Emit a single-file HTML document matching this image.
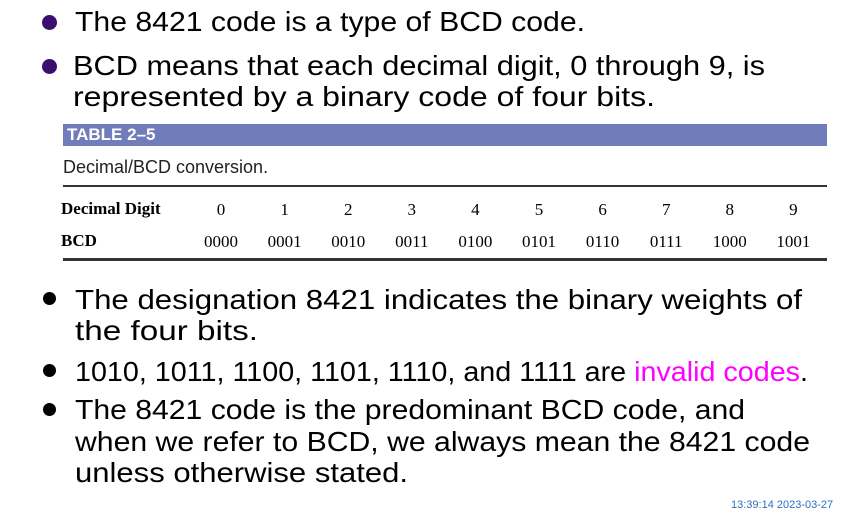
<!DOCTYPE html>
<html><head><meta charset="utf-8"><style>
body{margin:0;width:849px;height:516px;background:#fff;position:relative;overflow:hidden;font-family:"Liberation Sans",sans-serif}
.ln{position:absolute;white-space:nowrap;font-size:28px;line-height:32px;color:#000;transform-origin:0 50%}
.dot{position:absolute;width:15px;height:15px;border-radius:50%}
.s{position:absolute;font-family:"Liberation Serif",serif;font-size:17px;transform:translateX(-50%)}
</style></head><body>
<div class="dot" style="left:42px;top:15px;background:#3b0f6e"></div>
<div class="ln fit" data-w="510" style="left:75px;top:6px">The 8421 code is a type of BCD code.</div>
<div class="dot" style="left:42px;top:59px;background:#3b0f6e"></div>
<div class="ln fit" data-w="692" style="left:73px;top:50px">BCD means that each decimal digit, 0 through 9, is</div>
<div class="ln fit" data-w="582" style="left:73px;top:81px">represented by a binary code of four bits.</div>

<div style="position:absolute;left:63px;top:124px;width:764px;height:22px;background:#717dbb"></div>
<div style="position:absolute;left:67px;top:125px;color:#fff;font-weight:bold;font-size:17px;line-height:20px">TABLE 2–5</div>
<div style="position:absolute;left:63px;top:156px;color:#222;font-size:18px;line-height:22px">Decimal/BCD conversion.</div>
<div style="position:absolute;left:63px;top:185px;width:764px;height:1.5px;background:#333"></div>
<div style="position:absolute;left:61px;top:199px;font-family:'Liberation Serif',serif;font-weight:bold;font-size:17px">Decimal Digit</div>
<div style="position:absolute;left:61px;top:231px;font-family:'Liberation Serif',serif;font-weight:bold;font-size:17px">BCD</div>
<div id="cells"></div>
<div style="position:absolute;left:63px;top:258px;width:764px;height:2.5px;background:#333"></div>

<div class="dot" style="left:43px;top:292px;background:#000;width:13px;height:13px"></div>
<div class="ln fit" data-w="727" style="left:75px;top:284px">The designation 8421 indicates the binary weights of</div>
<div class="ln fit" data-w="183" style="left:75px;top:315px">the four bits.</div>
<div class="dot" style="left:43px;top:364px;background:#000;width:13px;height:13px"></div>
<div class="ln fit" data-w="733" style="left:75px;top:356px">1010, 1011, 1100, 1101, 1110, and 1111 are <span style="color:#ff00ff">invalid codes</span>.</div>
<div class="dot" style="left:43px;top:403px;background:#000;width:13px;height:13px"></div>
<div class="ln fit" data-w="670" style="left:75px;top:394px">The 8421 code is the predominant BCD code, and</div>
<div class="ln fit" data-w="735" style="left:75px;top:426px">when we refer to BCD, we always mean the 8421 code</div>
<div class="ln fit" data-w="333" style="left:75px;top:457px">unless otherwise stated.</div>
<div style="position:absolute;left:731px;top:499px;font-size:11px;color:#2a6fc0">13:39:14 2023-03-27</div>
<script>
var digits=["0","1","2","3","4","5","6","7","8","9"];
var codes=["0000","0001","0010","0011","0100","0101","0110","0111","1000","1001"];
var c=document.getElementById('cells');
digits.forEach(function(d,i){
 var x=221+i*63.6;
 var a=document.createElement('div');a.className='s';a.style.left=x+'px';a.style.top='200px';a.textContent=d;
 
 
 c.appendChild(a);
 var b=document.createElement('div');b.className='s';b.style.left=x+'px';b.style.top='232px';b.textContent=codes[i];
 
 
 c.appendChild(b);
});
document.querySelectorAll('.fit').forEach(function(e){
 var w=e.getBoundingClientRect().width;var t=+e.getAttribute('data-w');
 e.style.transform='scaleX('+(t/w)+')';
});
</script>
</body></html>
